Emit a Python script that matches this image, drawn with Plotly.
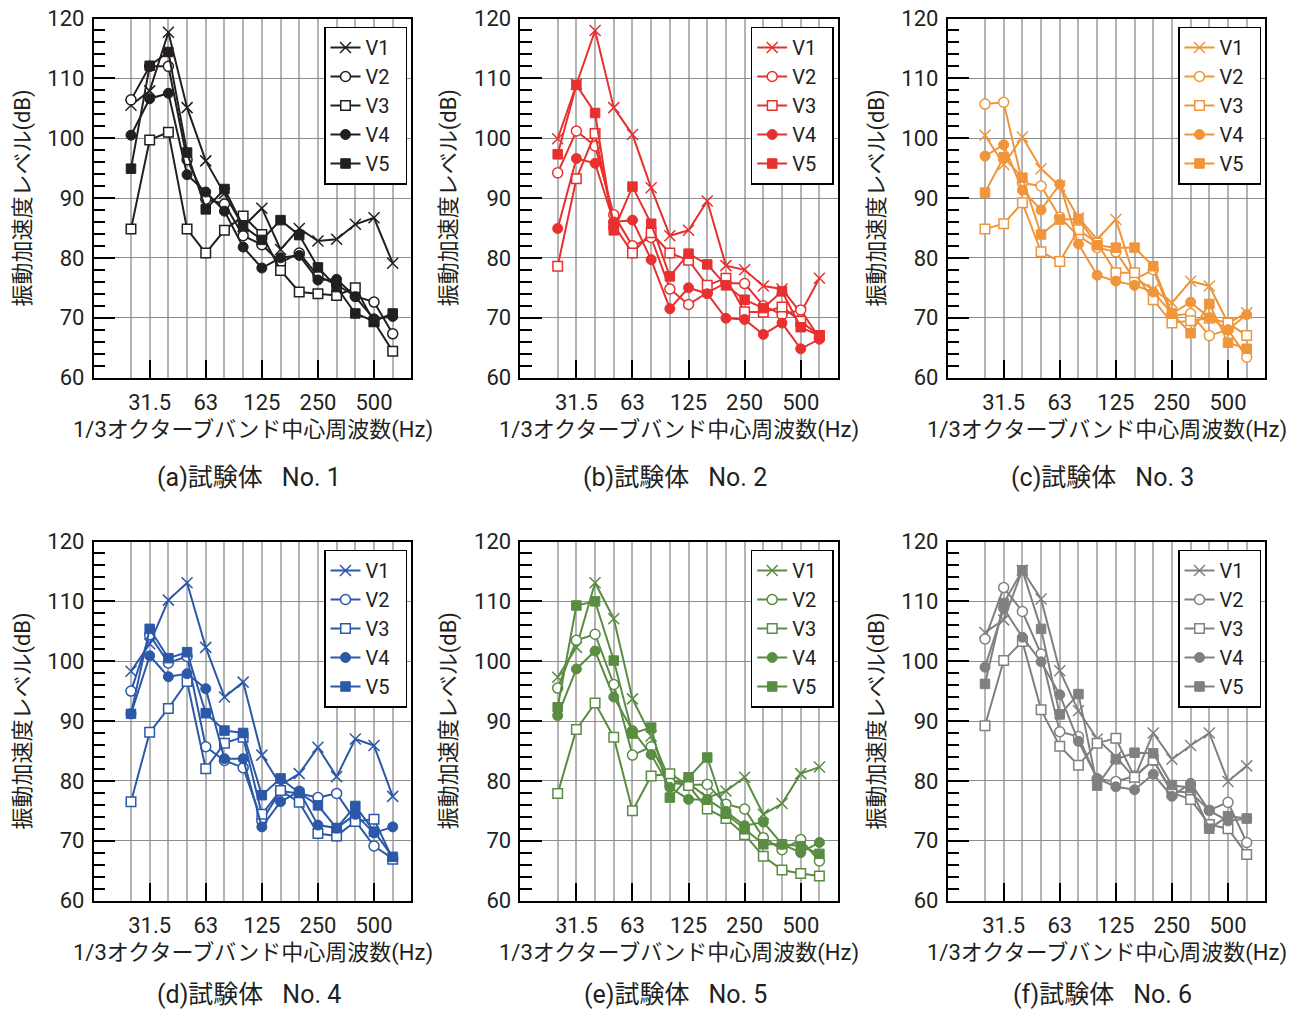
import plotly.graph_objects as go

# 1/3 octave band centre frequencies (Hz)
bands = ["25", "31.5", "40", "50", "63", "80", "100", "125", "160",
         "200", "250", "315", "400", "500", "630"]
tick_bands = ["31.5", "63", "125", "250", "500"]
series_names = ["V1", "V2", "V3", "V4", "V5"]
y_ticks = [60, 70, 80, 90, 100, 110, 120]

# Specimen No.1 (dB)
no1_v1 = [105.5, 107.9, 117.7, 105.1, 96.2, 90.8, 85.2, 88.3, 81.4, 84.9, 82.8, 83.1, 85.6, 86.7, 79.1]
no1_v2 = [106.4, 112.0, 112.0, 96.4, 89.8, 89.0, 83.7, 82.2, 79.2, 80.8, 77.0, 75.5, 73.6, 72.6, 67.3]
no1_v3 = [84.8, 99.7, 101.0, 84.8, 80.8, 84.6, 87.0, 83.9, 77.9, 74.3, 74.0, 73.7, 75.0, 69.3, 64.4]
no1_v4 = [100.5, 106.6, 107.5, 93.9, 91.0, 87.8, 81.8, 78.3, 80.0, 80.4, 76.3, 76.4, 73.5, 69.8, 70.2]
no1_v5 = [94.9, 112.1, 114.4, 97.6, 88.1, 91.5, 85.3, 83.0, 86.3, 83.8, 78.4, 75.1, 70.7, 69.4, 70.7]

# Specimen No.2 (dB)
no2_v1 = [99.9, 109.0, 118.0, 105.1, 100.6, 91.7, 83.7, 84.6, 89.5, 78.7, 78.0, 75.3, 74.8, 70.8, 76.6]
no2_v2 = [94.2, 101.2, 98.7, 87.2, 82.0, 83.4, 74.8, 72.2, 74.2, 75.8, 75.7, 72.0, 70.5, 71.3, 66.6]
no2_v3 = [78.6, 93.2, 100.8, 85.5, 80.8, 84.2, 80.8, 79.6, 75.4, 76.6, 71.0, 70.9, 71.8, 69.4, 67.0]
no2_v4 = [84.9, 96.6, 95.8, 86.0, 86.3, 79.7, 71.5, 75.0, 74.0, 69.9, 69.7, 67.2, 69.1, 64.8, 66.4]
no2_v5 = [97.3, 108.9, 104.2, 84.6, 91.9, 85.7, 76.9, 80.7, 78.9, 75.4, 73.0, 71.6, 74.4, 68.4, 67.0]

# Specimen No.3 (dB)
no3_v1 = [100.5, 95.6, 100.2, 94.9, 92.0, 86.7, 83.1, 86.4, 76.6, 74.7, 72.5, 76.1, 75.3, 69.1, 70.8]
no3_v2 = [105.7, 106.0, 92.5, 92.0, 86.8, 83.6, 81.7, 81.0, 76.4, 78.0, 70.3, 70.7, 67.0, 68.0, 63.4]
no3_v3 = [84.8, 85.7, 89.2, 81.0, 79.4, 84.7, 82.5, 77.5, 77.5, 73.0, 69.1, 69.5, 69.9, 69.1, 67.0]
no3_v4 = [97.0, 98.9, 91.3, 88.0, 92.3, 82.3, 77.1, 76.1, 75.4, 74.3, 70.7, 72.6, 70.0, 68.0, 70.5]
no3_v5 = [90.9, 96.8, 93.4, 83.9, 86.4, 86.5, 82.1, 81.7, 81.7, 78.6, 70.7, 67.4, 72.3, 65.8, 64.8]

# Specimen No.4 (dB)
no4_v1 = [98.3, 102.9, 110.2, 113.1, 102.3, 94.0, 96.5, 84.3, 79.3, 81.2, 85.6, 80.7, 87.0, 85.9, 77.4]
no4_v2 = [95.0, 104.4, 99.7, 100.8, 85.7, 83.4, 82.2, 73.3, 78.3, 77.9, 77.2, 77.9, 73.3, 69.1, 67.0]
no4_v3 = [76.5, 88.1, 92.1, 96.6, 82.0, 86.3, 87.3, 74.4, 78.4, 76.4, 71.2, 70.8, 73.2, 73.6, 66.9]
no4_v4 = [91.2, 100.9, 97.4, 97.9, 95.4, 83.7, 83.7, 72.3, 76.5, 78.3, 72.6, 72.1, 74.4, 71.3, 72.3]
no4_v5 = [91.2, 105.4, 100.5, 101.5, 91.3, 88.4, 88.0, 77.6, 80.4, 78.0, 75.9, 72.1, 75.8, 71.5, 67.3]

# Specimen No.5 (dB)
no5_v1 = [97.3, 102.3, 113.1, 107.1, 93.7, 87.5, 80.0, 79.6, 77.2, 78.3, 80.6, 74.4, 76.2, 81.2, 82.3]
no5_v2 = [95.5, 103.5, 104.5, 96.1, 84.3, 85.7, 79.7, 79.3, 79.4, 76.1, 75.3, 70.5, 68.5, 70.2, 66.6]
no5_v3 = [77.9, 88.6, 93.0, 87.3, 75.0, 80.8, 81.2, 79.2, 75.3, 73.7, 71.0, 67.4, 65.1, 64.5, 64.1]
no5_v4 = [90.9, 98.7, 101.7, 94.0, 88.4, 84.4, 78.9, 76.9, 76.9, 74.9, 72.5, 73.1, 69.4, 68.0, 69.7]
no5_v5 = [92.3, 109.3, 110.0, 100.1, 87.9, 88.9, 77.2, 80.6, 83.9, 74.5, 71.9, 69.4, 69.4, 69.1, 67.8]

# Specimen No.6 (dB)
no6_v1 = [104.8, 106.9, 115.2, 110.4, 98.4, 91.7, 87.0, 84.0, 80.5, 88.0, 83.6, 85.9, 88.0, 79.9, 82.5]
no6_v2 = [103.7, 112.3, 108.3, 101.2, 88.2, 87.4, 80.3, 79.9, 80.8, 83.4, 78.3, 78.0, 75.1, 76.4, 69.7]
no6_v3 = [89.2, 100.1, 103.3, 91.9, 85.8, 82.6, 86.3, 87.1, 80.6, 83.5, 78.0, 76.9, 72.7, 72.0, 67.7]
no6_v4 = [99.0, 108.8, 104.0, 99.9, 94.4, 86.6, 80.4, 79.0, 78.5, 81.1, 77.4, 79.6, 75.0, 73.3, 73.7]
no6_v5 = [96.2, 109.7, 115.2, 105.4, 91.1, 94.5, 79.2, 83.6, 84.7, 84.6, 79.3, 78.8, 72.0, 74.1, 73.7]

captions = ["(a)試験体\u2002 No. 1", "(b)試験体\u2002 No. 2", "(c)試験体\u2002 No. 3",
            "(d)試験体\u2002 No. 4", "(e)試験体\u2002 No. 5", "(f)試験体\u2002 No. 6"]
colors = ["#231f20", "#e8302f", "#f0953a", "#2c58a8", "#5a8c42", "#808080"]

specimens = [
    [no1_v1, no1_v2, no1_v3, no1_v4, no1_v5],
    [no2_v1, no2_v2, no2_v3, no2_v4, no2_v5],
    [no3_v1, no3_v2, no3_v3, no3_v4, no3_v5],
    [no4_v1, no4_v2, no4_v3, no4_v4, no4_v5],
    [no5_v1, no5_v2, no5_v3, no5_v4, no5_v5],
    [no6_v1, no6_v2, no6_v3, no6_v4, no6_v5],
]

W, H = 1300, 1010
FONT = "Roboto, Noto Sans CJK JP, sans-serif"
INK = "#231f20"

col_left = [93.6, 520.3, 947.6]
row_top = [18.5, 541.5]
caption_y = [477.0, 994.0]
pw, ph = 317.8, 359.0

x_idx = list(range(len(bands)))
tick_idx = [bands.index(b) for b in tick_bands]


def marker_style(k, c):
    if k == 0:
        return dict(symbol="x-thin", size=11, color=c, line=dict(color=c, width=1.5))
    if k == 1:
        return dict(symbol="circle", size=10, color="white", line=dict(color=c, width=1.5))
    if k == 2:
        return dict(symbol="square", size=9.5, color="white", line=dict(color=c, width=1.5))
    if k == 3:
        return dict(symbol="circle", size=10, color=c, line=dict(color=c, width=1))
    return dict(symbol="square", size=9.5, color=c, line=dict(color=c, width=1))


fig = go.Figure()
annotations = []

for p in range(6):
    r, cidx = divmod(p, 3)
    left, top = col_left[cidx], row_top[r]
    n = p + 1
    xa = "x" if n == 1 else f"x{n}"
    ya = "y" if n == 1 else f"y{n}"
    lg = "legend" if n == 1 else f"legend{n}"
    c = colors[p]

    for k, (name, vals) in enumerate(zip(series_names, specimens[p])):
        fig.add_trace(go.Scatter(
            x=x_idx, y=vals, name=name + "\u2002", mode="lines+markers",
            line=dict(color=c, width=2), marker=marker_style(k, c),
            xaxis=xa, yaxis=ya, legend=lg, cliponaxis=False,
        ))

    xdom = [left / W, (left + pw) / W]
    ydom = [1 - (top + ph) / H, 1 - top / H]

    fig.update_layout(**{
        ("xaxis" if n == 1 else f"xaxis{n}"): dict(
            domain=xdom, anchor=ya, range=[-2, 15],
            tickmode="array", tickvals=tick_idx, ticktext=tick_bands,
            ticks="inside", ticklen=18, tickwidth=2, tickcolor="black",
            showgrid=True, gridcolor="#b4b4b4", gridwidth=1.5,
            minor=dict(tickmode="array", tickvals=x_idx, showgrid=True,
                       gridcolor="#b4b4b4", gridwidth=1.5, ticks=""),
            showline=True, mirror=True, linecolor="black", linewidth=1.5,
            zeroline=False, fixedrange=True, automargin=False,
            ticklabelstandoff=4,
            tickfont=dict(family=FONT, size=22, color=INK),
        ),
        ("yaxis" if n == 1 else f"yaxis{n}"): dict(
            domain=ydom, anchor=xa, range=[60, 120],
            tickmode="array", tickvals=y_ticks,
            ticks="inside", ticklen=22, tickwidth=1.5, tickcolor="black",
            showgrid=True, gridcolor="#8c8c8c", gridwidth=1,
            minor=dict(dtick=2, tick0=60, ticks="inside", ticklen=12,
                       tickwidth=1.5, tickcolor="black", showgrid=False),
            showline=True, mirror=True, linecolor="black", linewidth=1.5,
            zeroline=False, fixedrange=True, automargin=False,
            ticklabelstandoff=3,
            tickfont=dict(family=FONT, size=22, color=INK),
        ),
        lg: dict(
            x=(left + pw - 4.4) / W, xanchor="right",
            y=1 - (top + 8.0) / H, yanchor="top",
            bgcolor="white", bordercolor="black", borderwidth=1.5,
            font=dict(family=FONT, size=20, color=INK),
            itemwidth=30, tracegroupgap=0,
        ),
    })

    cx = (left + pw / 2) / W
    annotations.append(dict(
        x=cx, y=1 - (top + 411.5) / H, xref="paper", yref="paper",
        text="1/3オクターブバンド中心周波数(Hz)", showarrow=False,
        font=dict(family=FONT, size=22, color=INK),
        xanchor="center", yanchor="middle"))
    annotations.append(dict(
        x=(left - 71) / W, y=1 - (top + ph / 2) / H, xref="paper", yref="paper",
        text="振動加速度レベル(dB)", showarrow=False, textangle=-90,
        font=dict(family=FONT, size=22, color=INK),
        xanchor="center", yanchor="middle"))
    annotations.append(dict(
        x=(left + pw / 2 - 4) / W, y=1 - caption_y[r] / H, xref="paper", yref="paper",
        text=captions[p], showarrow=False,
        font=dict(family=FONT, size=25, color=INK),
        xanchor="center", yanchor="middle"))

fig.update_layout(
    width=W, height=H,
    margin=dict(l=0, r=0, t=0, b=0, pad=0, autoexpand=False),
    paper_bgcolor="white", plot_bgcolor="white",
    annotations=annotations,
    showlegend=True,
)

fig.write_html("out.html", config={"displayModeBar": False})
